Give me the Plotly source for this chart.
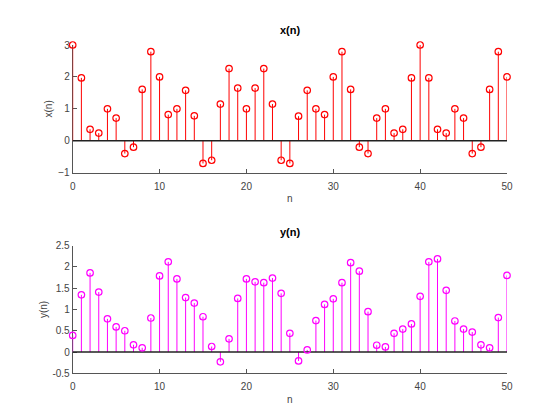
import plotly.graph_objects as go

n = list(range(51))
x_vals = [3.0, 1.97, 0.36, 0.24, 1.0, 0.71, -0.40, -0.20, 1.61, 2.79,
          2.0, 0.82, 1.0, 1.58, 0.78, -0.71, -0.61, 1.15, 2.26, 1.65,
          1.0, 1.65, 2.26, 1.15, -0.61, -0.71, 0.77, 1.58, 1.0, 0.82,
          2.0, 2.79, 1.61, -0.20, -0.40, 0.71, 1.0, 0.24, 0.36, 1.97,
          3.0, 1.97, 0.36, 0.24, 1.0, 0.71, -0.40, -0.20, 1.61, 2.79, 2.0]
y_vals = [0.39, 1.345, 1.86, 1.41, 0.78, 0.59, 0.50, 0.17, 0.10, 0.80,
          1.79, 2.12, 1.72, 1.28, 1.15, 0.83, 0.13, -0.23, 0.31, 1.26,
          1.72, 1.65, 1.63, 1.74, 1.38, 0.44, -0.21, 0.05, 0.74, 1.12,
          1.25, 1.63, 2.10, 1.90, 0.95, 0.16, 0.12, 0.44, 0.54, 0.66,
          1.31, 2.12, 2.19, 1.45, 0.73, 0.54, 0.47, 0.17, 0.10, 0.81, 1.80]
x_ticks = [0, 10, 20, 30, 40, 50]
top_yticks = [-1, 0, 1, 2, 3]
bot_yticks = [-0.5, 0, 0.5, 1, 1.5, 2, 2.5]
bot_yticklabels = ["-0.5", "0", "0.5", "1", "1.5", "2", "2.5"]

FONT = "Liberation Sans, Arial, sans-serif"
AXCOL = "#555555"
TXT = "#444444"


def stem_xy(xs, ys):
    sx, sy = [], []
    for a, b in zip(xs, ys):
        sx += [a, a, None]
        sy += [0, b, None]
    return sx, sy


fig = go.Figure()
for vals, color, xa, ya in [(x_vals, "#ff0000", "x", "y"), (y_vals, "#ff00ff", "x2", "y2")]:
    sx, sy = stem_xy(n, vals)
    fig.add_trace(go.Scatter(x=sx, y=sy, mode="lines", line=dict(color=color, width=1),
                             xaxis=xa, yaxis=ya, hoverinfo="skip", showlegend=False,
                             cliponaxis=False))
    fig.add_trace(go.Scatter(x=[n[0], n[-1]], y=[0, 0], mode="lines",
                             line=dict(color="#222222", width=1.5),
                             xaxis=xa, yaxis=ya, showlegend=False, cliponaxis=False))
    fig.add_trace(go.Scatter(x=n, y=vals, mode="markers",
                             marker=dict(symbol="circle-open", size=6.5, color=color,
                                         line=dict(width=1.2, color=color)),
                             xaxis=xa, yaxis=ya, showlegend=False, cliponaxis=False))

xdom = [72.7 / 560, 507 / 560]
axis_common = dict(showline=True, linecolor=AXCOL, linewidth=1, ticks="inside",
                   ticklen=4, tickcolor=AXCOL, showgrid=False, zeroline=False,
                   automargin=False, layer="below traces",
                   tickfont=dict(family=FONT, size=10, color=TXT), mirror=False)
xtitle = dict(text="n", font=dict(family=FONT, size=10, color=TXT), standoff=4)

fig.update_layout(
    width=560, height=420, margin=dict(l=0, r=0, t=0, b=0),
    paper_bgcolor="white", plot_bgcolor="white",
    xaxis=dict(domain=xdom, range=[0, 50], tickvals=x_ticks, anchor="y",
               ticklabelstandoff=4, title=xtitle, **axis_common),
    yaxis=dict(domain=[1 - 172.7 / 420, 1 - 45 / 420], range=[-1, 3], tickvals=top_yticks,
               anchor="x",
               title=dict(text="x(n)", font=dict(family=FONT, size=10, color=TXT), standoff=3),
               **axis_common),
    xaxis2=dict(domain=xdom, range=[0, 50], tickvals=x_ticks, anchor="y2",
                ticklabelstandoff=4, title=xtitle, **axis_common),
    yaxis2=dict(domain=[1 - 373.3 / 420, 1 - 245.7 / 420], range=[-0.5, 2.5],
                tickvals=bot_yticks, ticktext=bot_yticklabels, anchor="x2",
                title=dict(text="y(n)", font=dict(family=FONT, size=10, color=TXT), standoff=2),
                **axis_common),
    annotations=[
        dict(text="<b>x(n)</b>", x=0.518, y=1 - 30 / 420, xref="paper", yref="paper",
             yanchor="middle", showarrow=False,
             font=dict(family=FONT, size=11, color="#000000")),
        dict(text="<b>y(n)</b>", x=0.518, y=1 - 232 / 420, xref="paper", yref="paper",
             yanchor="middle", showarrow=False,
             font=dict(family=FONT, size=11, color="#000000")),
    ],
)

fig.write_html("out.html")
